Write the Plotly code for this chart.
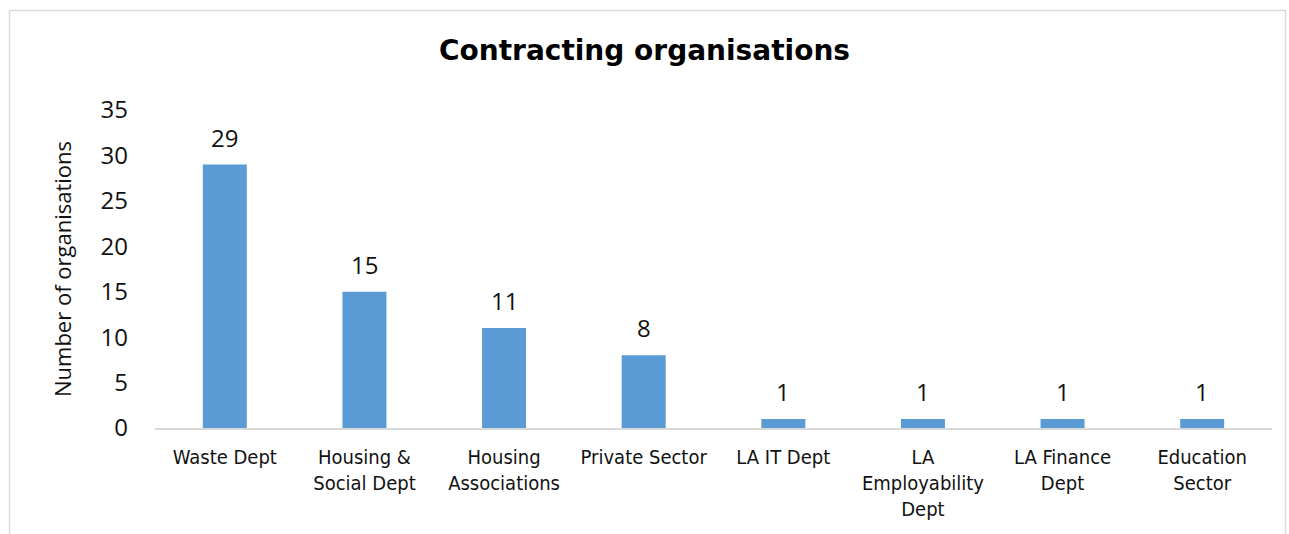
import plotly.graph_objects as go

# Organisations grouped by contracting body
categories = [
    "Waste Dept",
    "Housing &<br>Social Dept",
    "Housing<br>Associations",
    "Private Sector",
    "LA IT Dept",
    "LA<br>Employability<br>Dept",
    "LA Finance<br>Dept",
    "Education<br>Sector",
]
counts = [29, 15, 11, 8, 1, 1, 1, 1]
y_ticks = [0, 5, 10, 15, 20, 25, 30, 35]

BAR_COLOR = "#5b9bd5"
LABEL_FONT = "DejaVu Sans Condensed, Tahoma, sans-serif"
TITLE_FONT = "DejaVu Sans, Verdana, sans-serif"
NUM_FONT = "Open Sans, sans-serif"

fig = go.Figure(
    go.Bar(
        x=categories,
        y=counts,
        marker=dict(color=BAR_COLOR, line=dict(width=0)),
        cliponaxis=False,
    )
)

# value labels above each bar
for cat, val in zip(categories, counts):
    fig.add_annotation(
        x=cat,
        y=val,
        text=str(val),
        showarrow=False,
        yanchor="bottom",
        yshift=9,
        font=dict(family=NUM_FONT, size=24, color="#111111"),
    )

W, H = 1289, 534
ML, MR, MT, MB = 155, 17, 110, 106
pw = W - ML - MR
ph = H - MT - MB

def px_to_paper_x(px):
    return (px - ML) / pw

def px_to_paper_y(py):
    return (H - MB - py) / ph

fig.update_layout(
    width=W,
    height=H,
    margin=dict(l=ML, r=MR, t=MT, b=MB),
    paper_bgcolor="white",
    plot_bgcolor="white",
    bargap=0.685,
    showlegend=False,
    title=dict(
        text="<b>Contracting organisations</b>",
        x=0.5,
        xanchor="center",
        y=1 - 50 / H,
        yanchor="middle",
        font=dict(family=TITLE_FONT, size=28, color="#000000"),
    ),
    xaxis=dict(
        automargin=False,
        showline=True,
        linecolor="#d9d9d9",
        linewidth=2,
        ticks="",
        showgrid=False,
        ticklabelstandoff=10,
        tickfont=dict(family=LABEL_FONT, size=20, color="#111111"),
    ),
    yaxis=dict(
        automargin=False,
        range=[0, 35],
        tickvals=y_ticks,
        showgrid=False,
        zeroline=False,
        showline=False,
        ticks="",
        ticklabelstandoff=26,
        tickfont=dict(family=NUM_FONT, size=24, color="#111111"),
        title=dict(
            text="Number of organisations",
            font=dict(family=NUM_FONT, size=22, color="#111111"),
            standoff=22,
        ),
    ),
    shapes=[
        dict(
            type="rect",
            xref="paper",
            yref="paper",
            x0=px_to_paper_x(9.5),
            x1=px_to_paper_x(1285.5),
            y0=px_to_paper_y(545),
            y1=px_to_paper_y(10.5),
            line=dict(color="#d9d9d9", width=1.5),
            fillcolor="rgba(0,0,0,0)",
            layer="below",
        )
    ],
)

fig.write_html("out.html")
